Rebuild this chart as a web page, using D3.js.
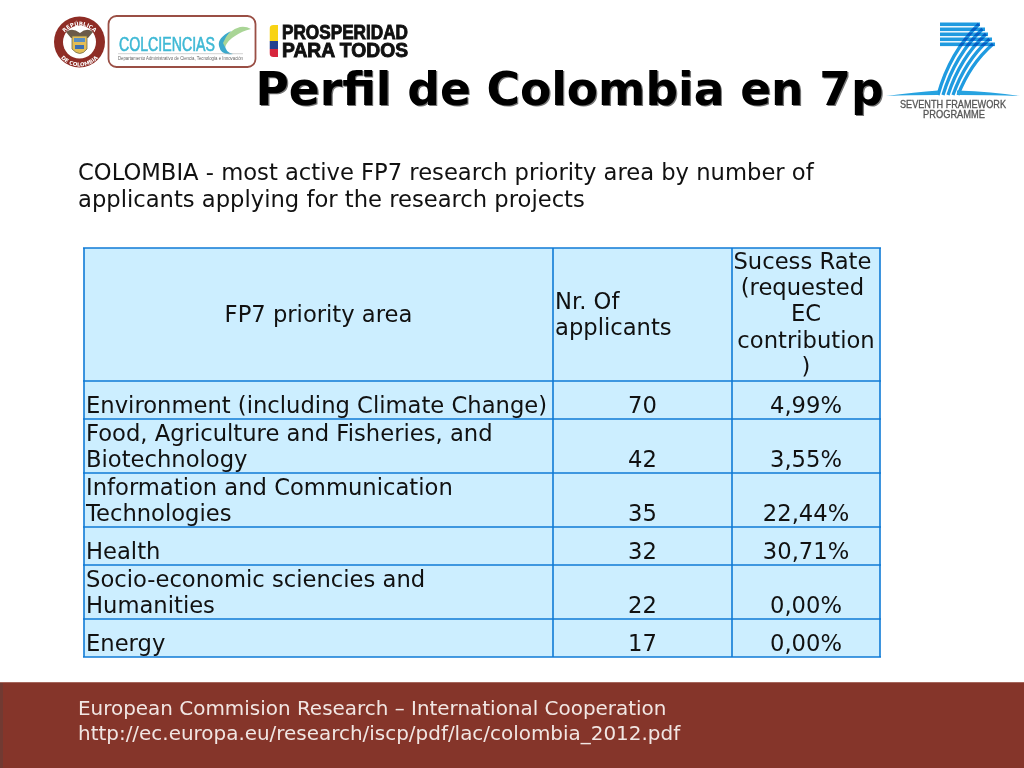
<!DOCTYPE html>
<html><head><meta charset="utf-8">
<script src="https://cdnjs.cloudflare.com/ajax/libs/d3/7.8.5/d3.min.js"></script>
<style>html,body{margin:0;padding:0;background:#fff;overflow:hidden}svg{display:block;font-family:"DejaVu Sans"}text{white-space:pre}</style>
</head><body><svg id="c" width="1024" height="768"></svg>
<script>
const titleText = "Perfil de Colombia en 7p";
const introLines = ["COLOMBIA - most active FP7 research priority area by number of","applicants applying for the research projects"];
const headerArea = ["FP7 priority area"];
const headerApplicants = ["Nr. Of","applicants"];
const headerRate = ["Sucess Rate ","(requested ","EC","contribution",")"];
const areas = [["Environment (including Climate Change)"],["Food, Agriculture and Fisheries, and","Biotechnology"],["Information and Communication","Technologies"],["Health"],["Socio-economic sciencies and","Humanities"],["Energy"]];
const applicants = [70,42,35,32,22,17];
const rates = ["4,99%","3,55%","22,44%","30,71%","0,00%","0,00%"];
const footerLines = ["European Commision Research – International Cooperation","http://ec.europa.eu/research/iscp/pdf/lac/colombia_2012.pdf"];

const svg = d3.select("#c");
const FS = 22.66, LH = 26.2;
// footer
svg.append("rect").attr("x",0).attr("y",682).attr("width",1024).attr("height",86).attr("fill","#85352a");
svg.append("rect").attr("x",0).attr("y",682).attr("width",3).attr("height",86).attr("fill","#713a32");
svg.append("rect").attr("x",0).attr("y",682).attr("width",1024).attr("height",1).attr("fill","#a5665c");
footerLines.forEach((t,i)=>svg.append("text").attr("x",78).attr("y",715+i*25).attr("font-size",19.95).attr("fill","#f1e6e3").text(t));
// title
[["#777",1.2,1.2],["#000",0,0]].forEach(([c,dx,dy])=>svg.append("text").attr("x",255.5+dx).attr("y",105+dy).attr("font-size",45.5).attr("font-weight","bold").attr("fill",c).text(titleText));
// intro
introLines.forEach((t,i)=>svg.append("text").attr("x",78).attr("y",179.5+i*27).attr("font-size",FS).attr("fill","#111").text(t));
// table
const rowHeights = [133].concat(areas.map(a=>a.length===1?38:54));
const yEdges = d3.cumsum([248].concat(rowHeights));
const x = d3.scaleOrdinal().domain([0,1,2,3]).range([84,553,732,880]);
const g = svg.append("g");
const bottomY = yEdges[yEdges.length-1];
const lineColor = "#0f7ad6";
g.append("rect").attr("x",84).attr("y",248).attr("width",796).attr("height",bottomY-248).attr("fill","#cceeff");
g.selectAll("line.h").data(yEdges).join("line").attr("x1",83).attr("x2",881).attr("y1",d=>d).attr("y2",d=>d).attr("stroke",lineColor).attr("stroke-width",1.6);
g.selectAll("line.v").data([0,1,2,3]).join("line").attr("class","v").attr("x1",d=>x(d)).attr("x2",d=>x(d)).attr("y1",248).attr("y2",bottomY).attr("stroke",lineColor).attr("stroke-width",1.6);
function put(t,px,py,anchor){g.append("text").attr("x",px).attr("y",py).attr("text-anchor",anchor).attr("font-size",FS).attr("fill","#111").text(t);}
put(headerArea[0],318.5,322,"middle");
headerApplicants.forEach((t,i)=>put(t,555,309+i*LH,"start"));
headerRate.forEach((t,i)=>put(t,806,269+i*LH,"middle"));
areas.forEach((lines,r)=>{
  const base = yEdges[r+2]-6;
  lines.forEach((t,i)=>put(t,86,base-(lines.length-1-i)*LH,"start"));
  put(String(applicants[r]),642.5,base,"middle");
  put(rates[r],806,base,"middle");
});
// logos
const logos = svg.append("g");
const defs = svg.append("defs");
defs.append("path").attr("id","arcTop").attr("d","M60 42 A19.8 19.8 0 0 1 99 42");
defs.append("path").attr("id","arcBot").attr("d","M55 42 A24.5 24.5 0 0 0 104 42");
// seal
logos.append("circle").attr("cx",79.5).attr("cy",42).attr("r",25.5).attr("fill","#8e2c25");
logos.append("circle").attr("cx",79.5).attr("cy",42).attr("r",16.5).attr("fill","#fff");
logos.append("path").attr("d","M66 32 Q72 27 80 33 Q87 27 93 32 L88 38 H71Z").attr("fill","#6b5a48");
logos.append("path").attr("d","M72 36 H87 V49 Q80 58 72 49Z").attr("fill","#e3bd55").attr("stroke","#6d6a4c").attr("stroke-width",.8);
logos.append("rect").attr("x",74).attr("y",38).attr("width",11).attr("height",4).attr("fill","#5a8fbf");
logos.append("rect").attr("x",75).attr("y",45).attr("width",9).attr("height",4).attr("fill","#3d6fb0");
logos.append("text").attr("font-size",5.4).attr("font-weight","bold").attr("fill","#fff").append("textPath").attr("href","#arcTop").attr("startOffset","50%").attr("text-anchor","middle").text("REPÚBLICA");
logos.append("text").attr("font-size",5.4).attr("font-weight","bold").attr("fill","#fff").append("textPath").attr("href","#arcBot").attr("startOffset","50%").attr("text-anchor","middle").text("DE COLOMBIA");
// Colciencias
logos.append("rect").attr("x",108.5).attr("y",16).attr("width",147).attr("height",51).attr("rx",8).attr("fill","#fff").attr("stroke","#9a4f45").attr("stroke-width",1.8);
logos.append("path").attr("d","M231 31 Q217 38 219 46 Q221 56 233 54 Q225 52 225 45 Q225 38 231 31Z").attr("fill","#3ba9cc");
logos.append("path").attr("d","M223 43 Q228 30 240 27 Q246 26 251 29 Q242 31 235 36 Q228 40 225 47Z").attr("fill","#a9d596");
logos.append("text").attr("x",119).attr("y",51).attr("font-family","Liberation Sans").attr("font-size",19.5).attr("textLength",96).attr("lengthAdjust","spacingAndGlyphs").attr("fill","#3fb9d5").attr("stroke","#3fb9d5").attr("stroke-width",.6).text("COLCIENCIAS");
logos.append("line").attr("x1",118).attr("x2",243).attr("y1",53.7).attr("y2",53.7).attr("stroke","#b5b5b5").attr("stroke-width",.6);
logos.append("text").attr("x",118).attr("y",59.5).attr("font-family","Liberation Sans").attr("font-size",4.6).attr("textLength",125).attr("lengthAdjust","spacingAndGlyphs").attr("fill","#666").text("Departamento Administrativo de Ciencia, Tecnología e Innovación");
// Prosperidad
const flagColors = ["#f8d314","#24408f","#d7263d"];
defs.append("clipPath").attr("id","flagClip").append("rect").attr("x",269.5).attr("y",25).attr("width",14).attr("height",32).attr("rx",4);
const flag = logos.append("g").attr("clip-path","url(#flagClip)");
flag.selectAll("rect").data(flagColors).join("rect").attr("x",269.5).attr("y",(d,i)=>[25,41,49][i]).attr("width",8.5).attr("height",(d,i)=>[16,8,8][i]).attr("fill",d=>d);
const pros = logos.append("text").attr("font-family","Liberation Sans").attr("font-weight","bold").attr("font-size",19.5).attr("stroke","#111").attr("stroke-width",.9).attr("fill","#111");
[["PROSPERIDAD",39],["PARA TODOS",56.5]].forEach(([t,yy])=>pros.append("tspan").attr("x",282).attr("y",yy).attr("textLength",126).attr("lengthAdjust","spacingAndGlyphs").text(t));
// FP7 emblem
const fp = logos.append("g");
const barEnds = [980,985,988,992,995];
fp.selectAll("rect").data(barEnds).join("rect").attr("x",940).attr("y",(d,i)=>22.5+i*5).attr("width",d=>d-940).attr("height",3.6).attr("fill","#1f9be0");
[0,1,2,3,4].forEach(i=>fp.append("path").attr("d",`M${979+i*3.5} ${24+i*5} Q${950+i*5} ${52+i*3} ${938+i*5} ${95}`).attr("fill","none").attr("stroke","#1f9be0").attr("stroke-width",3.3).style("mix-blend-mode","multiply"));
logos.append("path").attr("d","M886 96 Q915 92 938 90.5 L938 95 Q910 95 886 96Z M957 90.5 Q995 92 1020 96 Q995 95 957 95Z").attr("fill","#27a3e0");
logos.append("text").attr("x",900).attr("y",108).attr("font-family","Liberation Sans").attr("font-size",10.5).attr("textLength",106).attr("lengthAdjust","spacingAndGlyphs").attr("stroke","#555").attr("stroke-width",.3).attr("fill","#555").text("SEVENTH FRAMEWORK");
logos.append("text").attr("x",923).attr("y",118).attr("font-family","Liberation Sans").attr("font-size",10.5).attr("textLength",62).attr("lengthAdjust","spacingAndGlyphs").attr("stroke","#555").attr("stroke-width",.3).attr("fill","#555").text("PROGRAMME");
</script></body></html>
